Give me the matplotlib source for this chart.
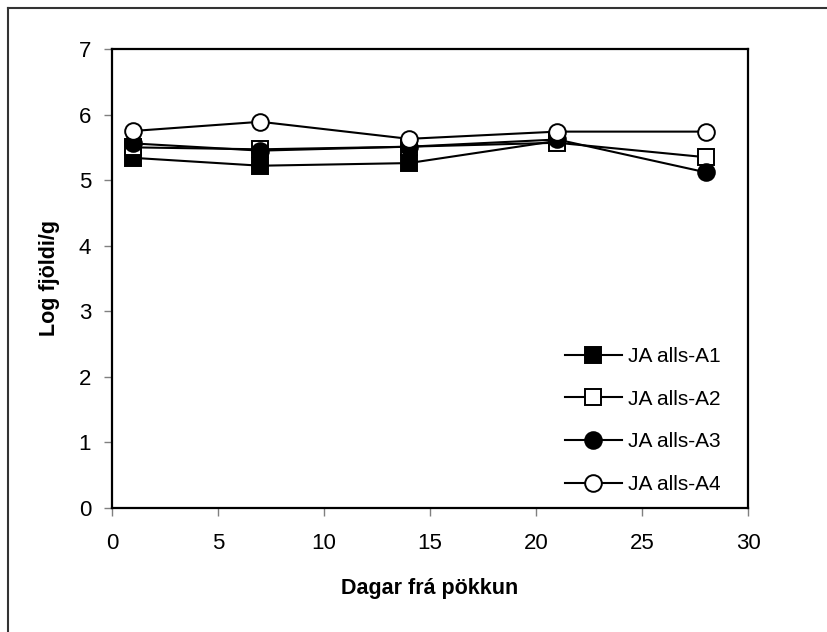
import numpy as np
import matplotlib
matplotlib.use("Agg")
import matplotlib.pyplot as plt
from matplotlib.lines import Line2D

plt.rcParams["font.family"] = ["Liberation Sans", "DejaVu Sans"]

# Days after packing and log counts per sample
days = [1, 7, 14, 21, 28]
a1 = [5.34, 5.22, 5.26, 5.60, np.nan]
a2 = [5.50, 5.47, 5.51, 5.57, 5.35]
a3 = [5.56, 5.45, 5.51, 5.62, 5.12]
a4 = [5.75, 5.89, 5.63, 5.74, 5.74]
labels = ["JA alls-A1", "JA alls-A2", "JA alls-A3", "JA alls-A4"]

fig = plt.figure(figsize=(8.28, 6.32), dpi=100)
ax = fig.add_axes([112 / 828, 1 - 508 / 632, 636 / 828, 459 / 632])

styles = [
    dict(marker="s", mfc="black", ms=11.5),
    dict(marker="s", mfc="white", ms=11.5),
    dict(marker="o", mfc="black", ms=12),
    dict(marker="o", mfc="white", ms=12),
]
for vals, lab, st in zip([a1, a2, a3, a4], labels, styles):
    ax.plot(days, vals, color="black", lw=1.5, mec="black", mew=1.4,
            label=lab, clip_on=False, **st)

ax.set_xlim(0, 30)
ax.set_ylim(0, 7)
ax.set_xticks(range(0, 31, 5))
ax.set_yticks(range(0, 8))
for sp in ax.spines.values():
    sp.set_linewidth(1.6)
    sp.set_color("black")
ax.tick_params(direction="out", length=6, width=1, color="#808080",
               labelsize=16, pad=9)
ax.tick_params(axis="x", pad=12)

ax.set_xlabel("Dagar frá pökkun", fontsize=15.5, fontweight="bold")
ax.xaxis.set_label_coords(0.5, -0.152)
ax.set_ylabel("Log fjöldi/g", fontsize=15.5, fontweight="bold")
ax.yaxis.set_label_coords(-0.081, 0.5)

ax.legend(loc="lower left", bbox_to_anchor=(0.712, 0.03), frameon=False,
          fontsize=15, handlelength=2.74, handletextpad=0.3,
          labelspacing=1.14, borderpad=0, borderaxespad=0)

# outer chart frame (only top and left edges fall inside the image)
fig.add_artist(Line2D([8 / 828, 8 / 828], [0, 1 - 8 / 632], color="#333333", lw=1.5))
fig.add_artist(Line2D([8 / 828, 1], [1 - 8 / 632, 1 - 8 / 632], color="#333333", lw=1.5))

fig.savefig("out.png", dpi=100)
